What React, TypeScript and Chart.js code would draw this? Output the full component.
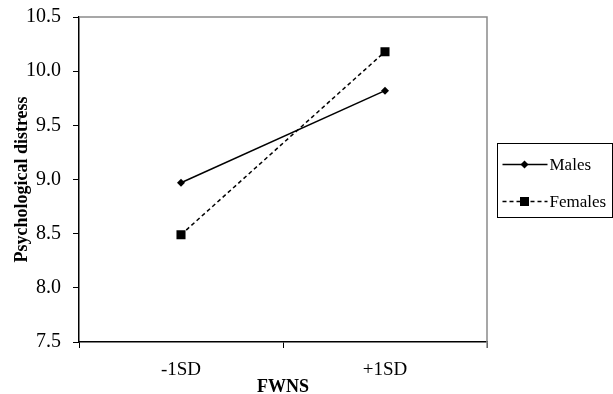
import React, { useEffect, useRef } from 'react';
import { Chart, registerables } from 'chart.js';

Chart.register(...registerables);

const categories = ['-1SD', '+1SD'];
const seriesNames = ['Males', 'Females'];
const malesValues = [8.97, 9.82];
const femalesValues = [8.49, 10.18];
const yMin = 7.5;
const yMax = 10.5;
const yStep = 0.5;
const xTitle = 'FWNS';
const yTitle = 'Psychological distress';

const FONT = '"Liberation Serif", "Times New Roman", serif';

function drawMarker(ctx: CanvasRenderingContext2D, style: string, x: number, y: number, r: number) {
  ctx.beginPath();
  if (style === 'rectRot') {
    ctx.moveTo(x, y - r);
    ctx.lineTo(x + r, y);
    ctx.lineTo(x, y + r);
    ctx.lineTo(x - r, y);
    ctx.closePath();
  } else {
    const s = r * Math.SQRT1_2;
    ctx.rect(x - s, y - s, 2 * s, 2 * s);
  }
  ctx.fill();
}

const framePlugin = {
  id: 'frame',
  afterDatasetsDraw(chart: any) {
    const { ctx, chartArea } = chart;
    ctx.save();
    ctx.strokeStyle = '#8a8a8a';
    ctx.lineWidth = 1.5;
    ctx.beginPath();
    ctx.moveTo(chartArea.left, chartArea.top);
    ctx.lineTo(chartArea.right, chartArea.top);
    ctx.lineTo(chartArea.right, chartArea.bottom + 6);
    ctx.stroke();
    ctx.restore();
  },
};

const legendPlugin = {
  id: 'boxLegend',
  afterDraw(chart: any) {
    const { ctx, chartArea } = chart;
    const bx = chartArea.right + 10.5;
    const by = 143.5;
    const bw = 115;
    const bh = 74;
    ctx.save();
    ctx.strokeStyle = '#000';
    ctx.lineWidth = 1;
    ctx.strokeRect(bx, by, bw, bh);
    const rows = [21, 58];
    chart.data.datasets.forEach((ds: any, i: number) => {
      const y = by + rows[i];
      ctx.strokeStyle = '#000';
      ctx.fillStyle = '#000';
      ctx.lineWidth = ds.borderWidth;
      ctx.setLineDash(ds.borderDash || []);
      ctx.beginPath();
      ctx.moveTo(bx + 5, y);
      ctx.lineTo(bx + 50, y);
      ctx.stroke();
      ctx.setLineDash([]);
      drawMarker(ctx, ds.pointStyle, bx + 27, y, ds.pointRadius);
      ctx.font = `17px ${FONT}`;
      ctx.textBaseline = 'middle';
      ctx.textAlign = 'left';
      ctx.fillText(ds.label, bx + 52, y + 1);
    });
    ctx.restore();
  },
};

export default function App() {
  const ref = useRef<HTMLCanvasElement>(null);

  useEffect(() => {
    document.body.style.margin = '0';
    const canvas = ref.current;
    if (!canvas) return;
    const chart = new Chart(canvas, {
      type: 'line',
      data: {
        labels: categories,
        datasets: [
          {
            label: seriesNames[0],
            data: malesValues,
            borderColor: '#000',
            backgroundColor: '#000',
            borderWidth: 1.5,
            pointStyle: 'rectRot',
            pointRadius: 4,
            pointBackgroundColor: '#000',
            pointBorderColor: '#000',
            pointBorderWidth: 0,
            fill: false,
          },
          {
            label: seriesNames[1],
            data: femalesValues,
            borderColor: '#000',
            backgroundColor: '#000',
            borderWidth: 1.5,
            borderDash: [4, 3],
            pointStyle: 'rect',
            pointRadius: 6.4,
            pointBackgroundColor: '#000',
            pointBorderColor: '#000',
            pointBorderWidth: 0,
            fill: false,
          },
        ],
      },
      options: {
        responsive: false,
        animation: false,
        layout: { padding: { top: 17, right: 126, left: 0, bottom: 0 } },
        plugins: {
          legend: { display: false },
          tooltip: { enabled: false },
        },
        scales: {
          x: {
            type: 'category',
            offset: true,
            grid: { offset: true, drawOnChartArea: false, tickLength: 6, color: '#000', tickColor: '#000' },
            border: { display: true, color: '#000', width: 1.5 },
            ticks: { color: '#000', font: { family: FONT, size: 19 }, padding: 11 },
            title: {
              display: true,
              text: xTitle,
              color: '#000',
              font: { family: FONT, size: 18, weight: 'bold', lineHeight: 1 },
              padding: { top: 0, bottom: -2 },
            },
            afterFit(scale: any) {
              scale.height = 52;
              scale.paddingLeft = 0;
              scale.paddingRight = 0;
            },
          },
          y: {
            min: yMin,
            max: yMax,
            grid: { drawOnChartArea: false, tickLength: 6, color: '#000', tickColor: '#000' },
            border: { display: true, color: '#000', width: 1.5 },
            ticks: {
              stepSize: yStep,
              color: '#000',
              font: { family: FONT, size: 20 },
              padding: 12,
              callback: (v: any) => Number(v).toFixed(1),
            },
            title: {
              display: true,
              text: yTitle,
              color: '#000',
              font: { family: FONT, size: 18, weight: 'bold', lineHeight: 1.2 },
              padding: { top: 12, bottom: 0 },
            },
            afterFit(scale: any) {
              scale.width = 79;
              scale.paddingTop = 0;
              scale.paddingBottom = 0;
            },
          },
        },
      },
      plugins: [framePlugin, legendPlugin],
    });
    return () => chart.destroy();
  }, []);

  return (
    <div style={{ width: 613, height: 394 }}>
      <canvas ref={ref} width={613} height={394} />
    </div>
  );
}
